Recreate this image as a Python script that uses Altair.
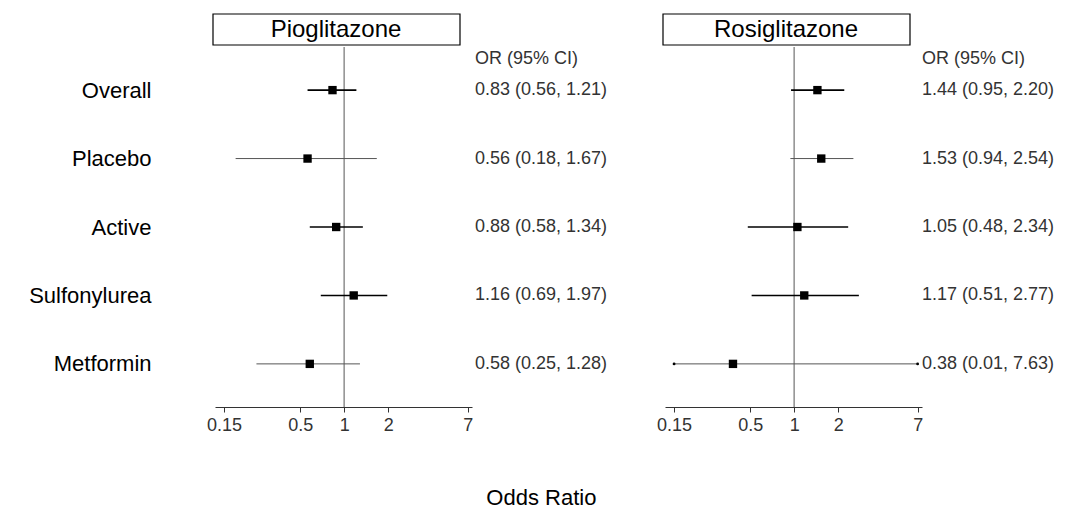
import altair as alt
import pandas as pd

rows = ["Overall", "Placebo", "Active", "Sulfonylurea", "Metformin"]

pio_or = [0.83, 0.56, 0.88, 1.16, 0.58]
pio_lo = [0.56, 0.18, 0.58, 0.69, 0.25]
pio_hi = [1.21, 1.67, 1.34, 1.97, 1.28]

rosi_or = [1.44, 1.53, 1.05, 1.17, 0.38]
rosi_lo = [0.95, 0.94, 0.48, 0.51, 0.01]
rosi_hi = [2.20, 2.54, 2.34, 2.77, 7.63]

ticks = [0.15, 0.5, 1, 2, 7]
panel_titles = ["Pioglitazone", "Rosiglitazone"]
header = "OR (95% CI)"
thin_rows = ["Placebo", "Metformin"]

W, H = 257, 360
FONT = "Liberation Sans"


def make_df(orv, lo, hi):
    df = pd.DataFrame({"row": rows, "or": orv, "lo": lo, "hi": hi})
    df["lo_d"] = df["lo"].clip(lower=min(ticks))
    df["hi_d"] = df["hi"].clip(upper=max(ticks))
    df["label"] = [f"{o:.2f} ({l:.2f}, {h:.2f})" for o, l, h in zip(orv, lo, hi)]
    return df


def panel(df, title, show_y, text_x):
    xs = alt.Scale(type="log", domain=[0.13, 7.5], nice=False, zero=False)
    xaxis = alt.Axis(values=ticks, format="~g", title=None, grid=False,
                     domainColor="#333", tickColor="#333", tickSize=5,
                     labelFontSize=18, labelColor="#333", labelPadding=4,
                     labelFlush=False)
    if show_y:
        yaxis = alt.Axis(title=None, ticks=False, domain=False, grid=False,
                         labelFontSize=22, labelColor="black", labelPadding=64)
    else:
        yaxis = None
    ys = alt.Scale(type="point", padding=0.63)
    Y = alt.Y("row:N", sort=rows, scale=ys, axis=yaxis)

    base = alt.Chart(df)
    thin_test = " || ".join([f"datum.row == '{r}'" for r in thin_rows])

    ref = base.mark_rule(color="#999", strokeWidth=1).encode(
        x=alt.datum(1, scale=xs, axis=xaxis)
    )
    ci = base.mark_rule().encode(
        x=alt.X("lo_d:Q", scale=xs, axis=xaxis),
        x2="hi_d:Q",
        y=Y,
        strokeWidth=alt.condition(thin_test, alt.value(1), alt.value(1.6)),
        color=alt.condition(thin_test, alt.value("#555"), alt.value("black")),
    )
    sq = base.mark_square(size=70, color="black", opacity=1).encode(
        x=alt.X("or:Q", scale=xs), y=Y
    )
    lo_end = base.transform_filter(f"datum.lo < {min(ticks)}").mark_circle(
        size=8, color="black", opacity=1).encode(x=alt.X("lo_d:Q", scale=xs), y=Y)
    hi_end = base.transform_filter(f"datum.hi > {max(ticks)}").mark_circle(
        size=8, color="black", opacity=1).encode(x=alt.X("hi_d:Q", scale=xs), y=Y)
    txt = base.mark_text(align="left", baseline="middle", fontSize=18,
                         color="#333").encode(
        x=alt.value(text_x), y=Y, text="label:N"
    )
    meta = alt.Chart(pd.DataFrame({"t": [title], "h": [header]}))
    hdr = meta.mark_text(align="left", baseline="middle", fontSize=18,
                         color="#333").encode(
        x=alt.value(text_x), y=alt.value(12), text="h:N"
    )
    box = meta.mark_rect(fill="white", stroke="black", strokeWidth=1.2).encode(
        x=alt.value(-2), x2=alt.value(245), y=alt.value(-33), y2=alt.value(-2)
    )
    ttl = meta.mark_text(align="center", baseline="middle", fontSize=24,
                         color="black").encode(
        x=alt.value(121), y=alt.value(-17), text="t:N"
    )
    return alt.layer(ref, ci, sq, lo_end, hi_end, txt, hdr, box, ttl).properties(
        width=W, height=H
    )


left = panel(make_df(pio_or, pio_lo, pio_hi), panel_titles[0], True, W + 3)
right = panel(make_df(rosi_or, rosi_lo, rosi_hi), panel_titles[1], False, W)

chart = alt.hconcat(left, right, spacing=193, bounds="flush").properties(
    title=alt.TitleParams("Odds Ratio", orient="bottom", anchor="middle",
                          fontSize=22, fontWeight="normal", offset=53,
                          color="black"),
    padding={"left": 20, "top": 4, "right": 5, "bottom": 5},
).configure(font=FONT).configure_view(stroke="transparent")

chart.save("out.html", embed_options={"renderer": "svg", "actions": False})
